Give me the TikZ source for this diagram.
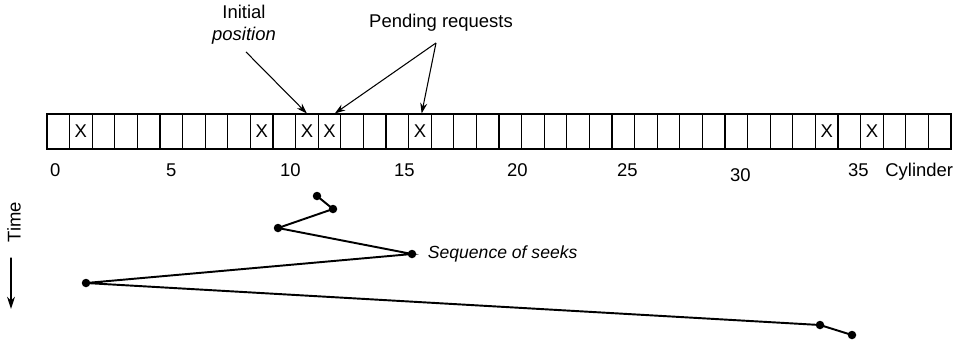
\documentclass[tikz,border=0pt]{standalone}
\usepackage{fontspec}
\setmainfont{Liberation Sans}
\usetikzlibrary{arrows.meta, positioning}
\tikzset{
  cell/.style={rectangle, draw=black, line width=0.6pt, minimum width=0.452cm,
    minimum height=0.7cm, inner sep=0pt},
  lbl/.style={font=\fontsize{10.5}{12.5}\selectfont, inner sep=0pt},
  seekdot/.style={circle, fill=black, minimum size=0.17cm, inner sep=0pt},
  seekline/.style={line width=1.1pt, black},
  pointer/.style={-{Stealth[length=6pt, width=4pt]}, line width=0.6pt},
  timearrow/.style={-{Stealth[length=7pt, width=4.5pt]}, line width=0.9pt}
}
\def\cw{22.6}

\begin{document}
\begin{tikzpicture}[x=0.02cm, y=-0.02cm]
  \useasboundingbox (0,0) rectangle (957,343);

  % cylinders
  \foreach \i in {0,...,39}
    \node[cell] (c\i) at ({47+\cw*(\i+0.5)},131.5) {};
  \foreach \i in {1,9,11,12,16,34,36}
    \node[lbl] (x\i) at (c\i) {X};
  \foreach \n/\dx/\dy in {0/-3/0,5/0/0,10/6/0,15/7/0,20/7/0,25/4/0,30/4/5,35/9/0}
    \node[lbl, anchor=base] (n\n) at ({47+\cw*(\n+0.5)+\dx},{176+\dy}) {\n};
  \node[lbl, anchor=base west] (cyl) at (885,176) {Cylinder};

  % labels on top
  \node[lbl, align=center, font=\fontsize{10.5}{12.5}\selectfont] (init) at (244,25)
    {Initial\\\itshape position};
  \node[lbl] (pend) at (441,23) {Pending requests};
  \draw[pointer] ([xshift=0.04cm, yshift=-0.14cm]init.south) -- (c11.north);
  \draw[pointer] ([xshift=-0.1cm, yshift=-0.22cm]pend.south) -- ([xshift=3pt]c12.north);
  \draw[pointer] ([xshift=-0.1cm, yshift=-0.22cm]pend.south) -- ([xshift=1pt]c16.north);

  % seeks
  \node[seekdot] (s1) at (317,196) {};
  \node[seekdot] (s2) at (333,209) {};
  \node[seekdot] (s3) at (278,228) {};
  \node[seekdot] (s4) at (412,254) {};
  \node[seekdot] (s5) at (86,283) {};
  \node[seekdot] (s6) at (820,325) {};
  \node[seekdot] (s7) at (852,335) {};
  \draw[seekline] (s1.center) -- (s2.center) -- (s3.center) -- (s4.center)
    -- (s5.center) -- (s6.center) -- (s7.center);
  \node[lbl, anchor=west, font=\fontsize{10}{12}\selectfont\itshape,
    right=0.22cm of s4] (seq) {Sequence of seeks};

  % time axis
  \node[lbl, rotate=90] (time) at (14,222) {Time};
  \coordinate (tbot) at (11,309);
  \draw[timearrow] ([xshift=-0.06cm, yshift=-0.3cm]time.west) -- (tbot);
\end{tikzpicture}
\end{document}
